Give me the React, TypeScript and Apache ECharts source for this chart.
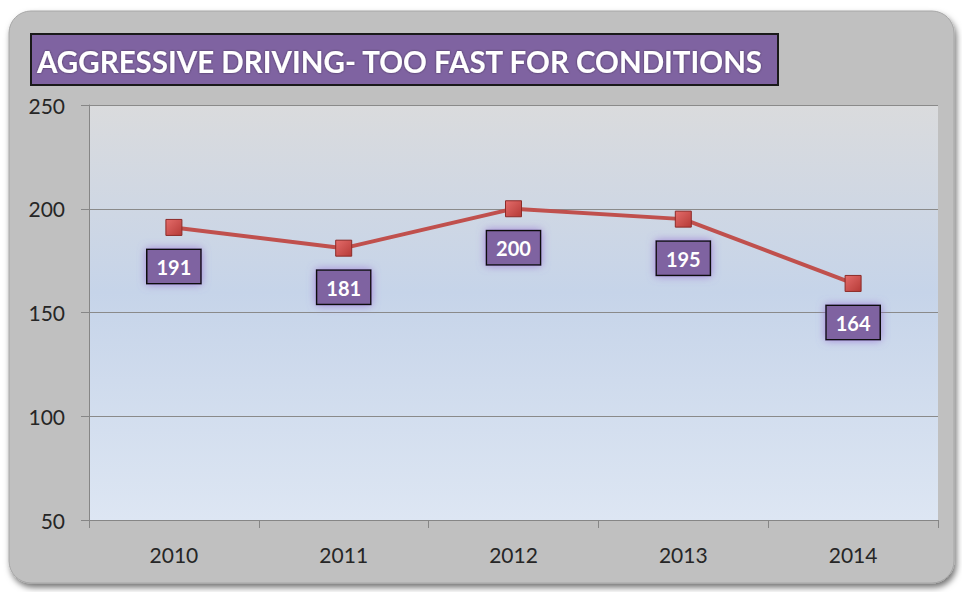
import React, { useEffect, useRef } from "react";
import * as echarts from "echarts";

const titleText = "AGGRESSIVE DRIVING- TOO FAST FOR CONDITIONS";
const years = ["2010", "2011", "2012", "2013", "2014"];
const counts = [191, 181, 200, 195, 164];
const yMin = 50;
const yMax = 250;
const yStep = 50;

export default function App() {
  const ref = useRef<HTMLDivElement>(null);
  useEffect(() => {
    if (!ref.current) return;
    const chart = echarts.init(ref.current, null, { renderer: "svg" });
    chart.setOption({
      animation: false,
      backgroundColor: "#ffffff",
      graphic: [
        {
          type: "rect",
          z: -10,
          shape: { x: 9, y: 11, width: 945, height: 572, r: 22 },
          style: {
            fill: "#c0c0c0",
            stroke: "#a6a6a6",
            lineWidth: 1,
            shadowColor: "rgba(0,0,0,0.55)",
            shadowBlur: 6,
            shadowOffsetX: 2,
            shadowOffsetY: 4,
          },
        },
        {
          type: "rect",
          z: 1,
          shape: { x: 31, y: 34, width: 747, height: 51 },
          style: {
            fill: "#7f63a1",
            stroke: "#1a1a1a",
            lineWidth: 2,
          },
        },
        {
          type: "text",
          z: 2,
          x: 37,
          y: 61,
          style: {
            text: titleText,
            fill: "#ffffff",
            font: "bold 29.5px Lato, 'Open Sans', sans-serif",
            verticalAlign: "middle",
            textShadowColor: "rgba(0,0,0,0.5)",
            textShadowBlur: 2,
          },
        },
      ],
      grid: {
        left: 89,
        right: 24,
        top: 105,
        bottom: 72,
        show: true,
        borderWidth: 0,
        backgroundColor: {
          type: "linear",
          x: 0,
          y: 0,
          x2: 0,
          y2: 1,
          colorStops: [
            { offset: 0, color: "#dadbdd" },
            { offset: 0.45, color: "#c6d4e9" },
            { offset: 1, color: "#dde6f3" },
          ],
        },
      },
      xAxis: {
        type: "category",
        data: years,
        boundaryGap: true,
        axisLine: { show: true, lineStyle: { color: "#868686", width: 1 } },
        axisTick: { show: true, length: 8, lineStyle: { color: "#868686" } },
        axisLabel: {
          color: "#262626",
          fontSize: 21,
          fontFamily: "Lato, 'Open Sans', sans-serif",
          margin: 24,
        },
        splitLine: { show: false },
      },
      yAxis: {
        type: "value",
        min: yMin,
        max: yMax,
        interval: yStep,
        axisLine: { show: true, lineStyle: { color: "#868686", width: 1 } },
        axisTick: { show: true, length: 8, lineStyle: { color: "#868686" } },
        axisLabel: {
          color: "#262626",
          fontSize: 21,
          fontFamily: "Lato, 'Open Sans', sans-serif",
          margin: 24,
        },
        splitLine: { show: true, lineStyle: { color: "#8a8a8a", width: 1 } },
      },
      series: [
        {
          type: "line",
          data: counts,
          symbol: "rect",
          symbolSize: 16,
          lineStyle: { color: "#c0504d", width: 4 },
          itemStyle: {
            color: {
              type: "linear",
              x: 0,
              y: 0,
              x2: 1,
              y2: 1,
              colorStops: [
                { offset: 0, color: "#e46c6a" },
                { offset: 1, color: "#b53a37" },
              ],
            },
            borderColor: "#8c2b28",
            borderWidth: 1,
          },
          label: {
            show: true,
            position: "bottom",
            distance: 14,
            color: "#ffffff",
            fontSize: 20,
            fontWeight: "bold",
            fontFamily: "Lato, 'Open Sans', sans-serif",
            backgroundColor: "#7f63a1",
            borderColor: "#111111",
            borderWidth: 1.5,
            padding: [7, 9, 6, 9],
            shadowColor: "rgba(150,110,210,0.8)",
            shadowBlur: 8,
          },
        },
      ],
    });
    return () => chart.dispose();
  }, []);
  return (
    <div
      ref={ref}
      style={{ position: "fixed", left: 0, top: 0, width: 962, height: 592 }}
    />
  );
}
